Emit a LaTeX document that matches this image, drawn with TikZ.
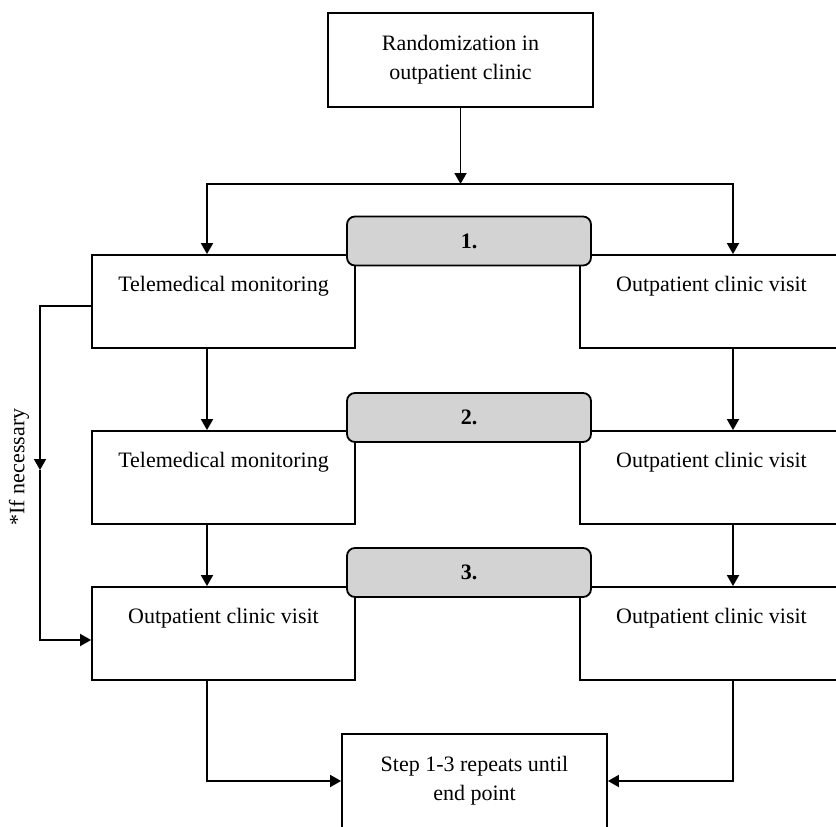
\documentclass[tikz,border=0pt]{standalone}
\usepackage{fontspec}
\setmainfont{Liberation Serif}
\usepackage{tikz}
\usetikzlibrary{arrows.meta}
\definecolor{tagGray}{HTML}{D3D3D3}

\begin{document}
\begin{tikzpicture}[x=1pt, y=-1pt, line width=1.8pt,
    >={Triangle[length=11pt, width=12pt]},
    font=\fontsize{22}{29}\selectfont,
    main/.style = {draw, minimum width=263pt, minimum height=93pt, inner sep=0pt, align=center},
    topbox/.style = {main, text height=15pt, text depth=35pt},
    tag/.style = {draw, fill=tagGray, rounded corners=8pt, minimum width=244pt, minimum height=49pt, font=\fontsize{22}{29}\selectfont\bfseries}]
    \useasboundingbox (0,0) rectangle (836,827);
    \coordinate (L) at (207,0);
    \coordinate (R) at (733,0);
    \coordinate (side) at (40,0);

    \node[main, minimum width=265pt, minimum height=94pt] (rand) at (460.5,60) {Randomization in\\outpatient clinic};
    \node[topbox] (tele1) at (223.5,301.5) {Telemedical monitoring};
    \node[topbox] (out1) at (711.5,301.5) {Outpatient clinic visit};
    \node[topbox] (tele2) at (223.5,477.5) {Telemedical monitoring};
    \node[topbox] (out2) at (711.5,477.5) {Outpatient clinic visit};
    \node[topbox] (visitL) at (223.5,633.5) {Outpatient clinic visit};
    \node[topbox] (visitR) at (711.5,633.5) {Outpatient clinic visit};
    \node[main, minimum width=265pt, minimum height=94pt] (end) at (474.5,781) {Step 1-3 repeats until\\end point};

    \node[tag] (s1) at (469,241) {1.};
    \node[tag] (s2) at (469,417.5) {2.};
    \node[tag] (s3) at (469,572.5) {3.};

    \coordinate (split) at (rand.south |- 0,184);
    \draw[->] (rand) -- (split);
    \draw[->] (split) -| (tele1.north -| L);
    \draw[->] (split) -| (out1.north -| R);
    \draw[->] (tele1.south -| L) -- (tele2.north -| L);
    \draw[->] (tele2.south -| L) -- (visitL.north -| L);
    \draw[->] (out1.south -| R) -- (out2.north -| R);
    \draw[->] (out2.south -| R) -- (visitR.north -| R);
    \draw[->] (visitL.south -| L) |- (end.west);
    \draw[->] (visitR.south -| R) |- (end.east);

    % side path
    \coordinate (drop) at (side |- 0,470);
    \draw[->] ([yshift=-4.5pt]tele1.west) -| (drop);
    \draw[->] (drop) |- ([yshift=-6.5pt]visitL.west);
    \node[rotate=90] (note) at (19,467) {*If necessary};
\end{tikzpicture}
\end{document}
